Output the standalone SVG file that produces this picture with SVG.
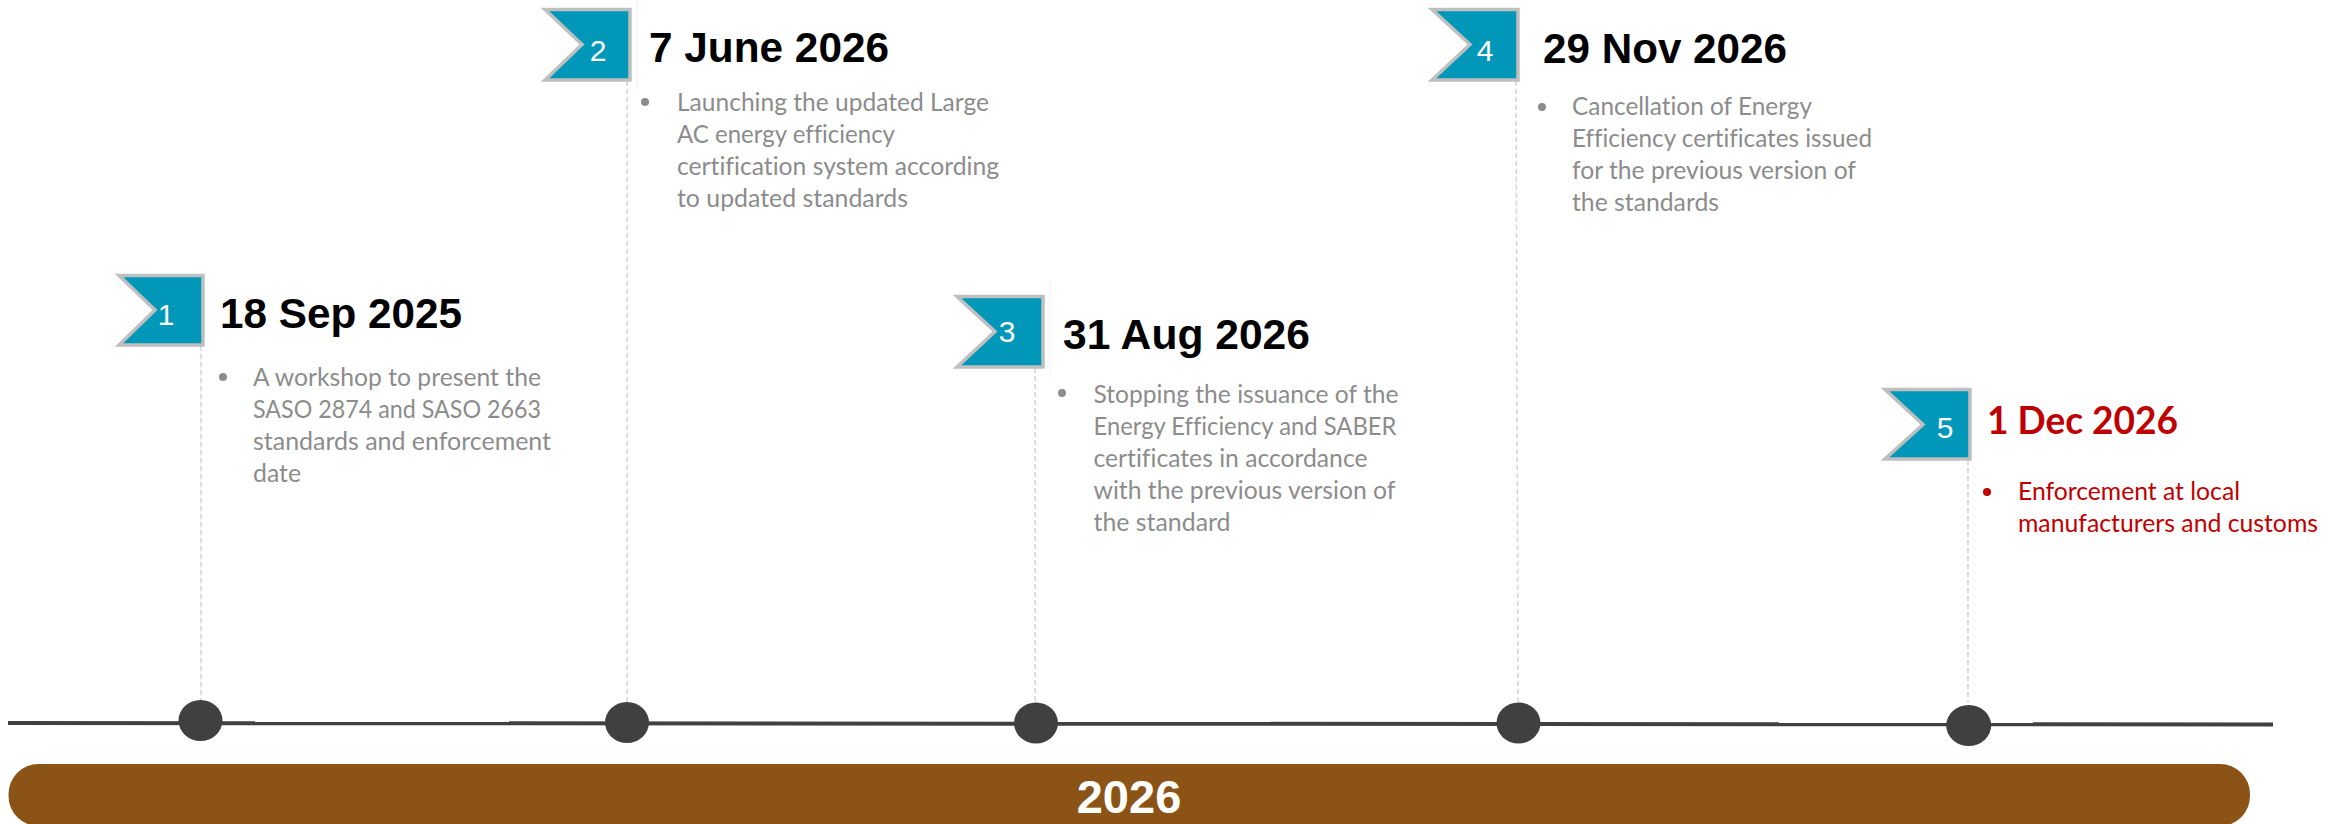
<svg xmlns="http://www.w3.org/2000/svg" width="2340" height="824" viewBox="0 0 2340 824">
<style>
.flag{fill:#0097b9;stroke:#bfbfbf;stroke-width:3.5}
.num{font:30px "Liberation Sans",Arial,sans-serif;fill:#fff;text-anchor:middle}
.date{font:bold 42.5px "Liberation Sans",Arial,sans-serif;fill:#000}
.reddate{font:bold 37.5px Lato,"Liberation Sans",sans-serif;fill:#c00000}
.body{font:24.5px Lato,"Open Sans",sans-serif;fill:#8c8c8c;font-variant-ligatures:none}
.red{fill:#c00000}
.bul{fill:#8c8c8c}
.stem{stroke:#d4d4d4;stroke-width:1.5;stroke-dasharray:5 3;fill:none}
.faint{stroke:#f3f3f3;stroke-width:1;fill:none}
.dot{fill:#404040}
</style>
<rect width="2340" height="824" fill="#fff"/>
<g id="connectors">
<line class="faint" x1="637" y1="0" x2="637" y2="90"/>
<line class="faint" x1="1050" y1="280" x2="1050" y2="378"/>
<line class="stem" x1="201" y1="346" x2="201" y2="700"/>
<line class="stem" x1="627" y1="81" x2="627" y2="702"/>
<line class="stem" x1="1035" y1="368" x2="1035" y2="702"/>
<line class="stem" x1="1516" y1="81" x2="1518" y2="702"/>
<line class="stem" x1="1968" y1="460" x2="1968" y2="702"/>
<line x1="8" y1="723" x2="2273" y2="724.500" stroke="#404040" stroke-width="4"/>
</g>
<g id="bar">
<rect x="8.500" y="764" width="2241.500" height="62" rx="30" fill="#8b5416"/>
<text x="1129" y="813" font-family="Liberation Sans, Arial, sans-serif" font-weight="bold" font-size="47" fill="#fff" text-anchor="middle">2026</text>
</g>
<g id="node1">
<path class="flag" d="M119 275.500H203V345H119L155 310Z"/>
<text class="num" x="166" y="325">1</text>
<text class="date" x="220" y="328" textLength="242" lengthAdjust="spacingAndGlyphs">18 Sep 2025</text>
<circle class="bul" cx="223" cy="377" r="4"/>
<text class="body" x="253" y="386" textLength="288" lengthAdjust="spacingAndGlyphs">A workshop to present the</text>
<text class="body" x="253" y="418" textLength="288" lengthAdjust="spacingAndGlyphs">SASO 2874 and SASO 2663</text>
<text class="body" x="253" y="450" textLength="298" lengthAdjust="spacingAndGlyphs">standards and enforcement</text>
<text class="body" x="253" y="482" textLength="48" lengthAdjust="spacingAndGlyphs">date</text>
<ellipse class="dot" cx="200.500" cy="720.500" rx="22" ry="20.500"/>
</g>
<g id="node2">
<path class="flag" d="M545 9.500H630V80H545L582 44.500Z"/>
<text class="num" x="598" y="61">2</text>
<text class="date" x="649" y="62" textLength="240" lengthAdjust="spacingAndGlyphs">7 June 2026</text>
<circle class="bul" cx="645" cy="102" r="4"/>
<text class="body" x="677" y="111" textLength="312" lengthAdjust="spacingAndGlyphs">Launching the updated Large</text>
<text class="body" x="677" y="143" textLength="218" lengthAdjust="spacingAndGlyphs">AC energy efficiency</text>
<text class="body" x="677" y="175" textLength="322" lengthAdjust="spacingAndGlyphs">certification system according</text>
<text class="body" x="677" y="207" textLength="231" lengthAdjust="spacingAndGlyphs">to updated standards</text>
<ellipse class="dot" cx="627" cy="722.500" rx="22" ry="20.500"/>
</g>
<g id="node3">
<path class="flag" d="M957 296.500H1043V367H957L995 331.500Z"/>
<text class="num" x="1007" y="342">3</text>
<text class="date" x="1063" y="349" textLength="247" lengthAdjust="spacingAndGlyphs">31 Aug 2026</text>
<circle class="bul" cx="1062" cy="393" r="4"/>
<text class="body" x="1093.500" y="403" textLength="305" lengthAdjust="spacingAndGlyphs">Stopping the issuance of the</text>
<text class="body" x="1093.500" y="435" textLength="303" lengthAdjust="spacingAndGlyphs">Energy Efficiency and SABER</text>
<text class="body" x="1093.500" y="467" textLength="274" lengthAdjust="spacingAndGlyphs">certificates in accordance</text>
<text class="body" x="1093.500" y="499" textLength="302" lengthAdjust="spacingAndGlyphs">with the previous version of</text>
<text class="body" x="1093.500" y="531" textLength="137" lengthAdjust="spacingAndGlyphs">the standard</text>
<ellipse class="dot" cx="1036" cy="723" rx="22" ry="20.500"/>
</g>
<g id="node4">
<path class="flag" d="M1432 9.500H1518V80H1432L1470 44.500Z"/>
<text class="num" x="1485" y="61">4</text>
<text class="date" x="1543" y="63" textLength="244" lengthAdjust="spacingAndGlyphs">29 Nov 2026</text>
<circle class="bul" cx="1542" cy="107" r="4"/>
<text class="body" x="1572" y="115" textLength="240" lengthAdjust="spacingAndGlyphs">Cancellation of Energy</text>
<text class="body" x="1572" y="147" textLength="300" lengthAdjust="spacingAndGlyphs">Efficiency certificates issued</text>
<text class="body" x="1572" y="179" textLength="284" lengthAdjust="spacingAndGlyphs">for the previous version of</text>
<text class="body" x="1572" y="211" textLength="147" lengthAdjust="spacingAndGlyphs">the standards</text>
<ellipse class="dot" cx="1518.500" cy="723" rx="22" ry="20.500"/>
</g>
<g id="node5">
<path class="flag" d="M1885 389.500H1970V459H1885L1923 424.500Z"/>
<text class="num" x="1945" y="438">5</text>
<text class="reddate" x="1987" y="434" textLength="191" lengthAdjust="spacingAndGlyphs">1 Dec 2026</text>
<circle class="red" cx="1987" cy="492" r="4"/>
<text class="body red" x="2018" y="500" textLength="222" lengthAdjust="spacingAndGlyphs">Enforcement at local</text>
<text class="body red" x="2018" y="532" textLength="300" lengthAdjust="spacingAndGlyphs">manufacturers and customs</text>
<ellipse class="dot" cx="1968.700" cy="725.500" rx="22.500" ry="20.500"/>
</g>
</svg>
